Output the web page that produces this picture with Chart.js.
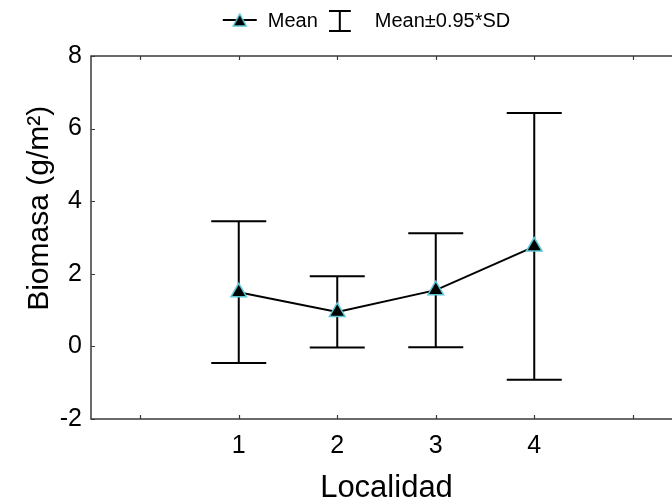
<!DOCTYPE html>
<html>
<head>
<meta charset="utf-8">
<script src="https://cdn.jsdelivr.net/npm/chart.js@4.4.1/dist/chart.umd.min.js"></script>
<style>
  html, body { margin: 0; padding: 0; background: #fff; overflow: hidden; }
  #wrap { width: 732px; height: 504px; }
</style>
</head>
<body>
<div id="wrap"><canvas id="c" width="732" height="504"></canvas></div>
<script>
// ---- data ----
const categories = [1, 2, 3, 4];
const means = [1.49, 0.95, 1.55, 2.75];
const lowerSD = [-0.46, -0.03, -0.02, -0.92];
const upperSD = [3.45, 1.93, 3.12, 6.43];
const xTicks = [0, 1, 2, 3, 4, 5];
const yTicks = [-2, 0, 2, 4, 6, 8];
const seriesNames = ['Mean', 'Mean\u00b10.95*SD'];
const xTitle = 'Localidad';
const yTitle = 'Biomasa (g/m\u00b2)';

const FONT = "'Liberation Sans', Arial, sans-serif";
const CYAN = '#5cc6d6';
const AXIS = '#3a3a3a';

// legend icons
function iconMean() {
  const c = document.createElement('canvas');
  c.width = 36; c.height = 24;
  const g = c.getContext('2d');
  g.strokeStyle = '#000'; g.lineWidth = 2;
  g.beginPath(); g.moveTo(1, 11); g.lineTo(35, 11); g.stroke();
  g.fillStyle = '#000'; g.strokeStyle = CYAN; g.lineWidth = 1.5;
  g.beginPath(); g.moveTo(18, 5); g.lineTo(24.5, 17); g.lineTo(11.5, 17); g.closePath();
  g.fill(); g.stroke();
  return c;
}
function iconSD() {
  const c = document.createElement('canvas');
  c.width = 36; c.height = 24;
  const g = c.getContext('2d');
  g.strokeStyle = '#000'; g.lineWidth = 2;
  g.beginPath();
  g.moveTo(0, 2); g.lineTo(22, 2);
  g.moveTo(11, 2); g.lineTo(11, 22);
  g.moveTo(0, 22); g.lineTo(22, 22);
  g.stroke();
  return c;
}

const errorBars = {
  id: 'errorBars',
  beforeDatasetsDraw(chart) {
    const {ctx, scales: {x, y}} = chart;
    ctx.save();
    ctx.strokeStyle = '#000';
    ctx.lineWidth = 2;
    categories.forEach((c, i) => {
      const px = x.getPixelForValue(c);
      const pLo = y.getPixelForValue(lowerSD[i]);
      const pHi = y.getPixelForValue(upperSD[i]);
      const hw = 27.5;
      ctx.beginPath();
      ctx.moveTo(px, pLo); ctx.lineTo(px, pHi);
      ctx.moveTo(px - hw, pHi); ctx.lineTo(px + hw, pHi);
      ctx.moveTo(px - hw, pLo); ctx.lineTo(px + hw, pLo);
      ctx.stroke();
    });
    ctx.restore();
  }
};

const frame = {
  id: 'frame',
  afterDraw(chart) {
    const {ctx, chartArea: a, scales: {x, y}} = chart;
    ctx.save();
    ctx.strokeStyle = AXIS;
    ctx.lineWidth = 1.5;
    ctx.beginPath();
    ctx.moveTo(a.right, a.top); ctx.lineTo(a.left, a.top);
    ctx.lineTo(a.left, a.bottom); ctx.lineTo(a.right, a.bottom);
    ctx.lineTo(a.right, a.top);
    ctx.stroke();
    ctx.lineWidth = 1.2;
    ctx.beginPath();
    x.ticks.forEach(t => {
      const px = Math.round(x.getPixelForValue(t.value)) + 0.5;
      ctx.moveTo(px, a.bottom); ctx.lineTo(px, a.bottom - 4);
      ctx.moveTo(px, a.top); ctx.lineTo(px, a.top + 4);
    });
    y.ticks.forEach(t => {
      const py = Math.round(y.getPixelForValue(t.value)) + 0.5;
      ctx.moveTo(a.left, py); ctx.lineTo(a.left + 4, py);
      ctx.moveTo(a.right, py); ctx.lineTo(a.right - 4, py);
    });
    ctx.stroke();
    ctx.restore();
  }
};

new Chart(document.getElementById('c'), {
  type: 'line',
  data: {
    datasets: [{
      label: seriesNames[0],
      data: categories.map((c, i) => ({x: c, y: means[i]})),
      borderColor: '#000',
      borderWidth: 2,
      pointStyle: 'triangle',
      pointRadius: 9,
      pointBackgroundColor: '#000',
      pointBorderColor: CYAN,
      pointBorderWidth: 1.5,
      tension: 0,
      fill: false
    }]
  },
  options: {
    responsive: false,
    animation: false,
    devicePixelRatio: 1,
    layout: { padding: 0 },
    plugins: {
      tooltip: { enabled: false },
      legend: {
        display: true,
        position: 'top',
        labels: {
          usePointStyle: true,
          pointStyleWidth: 36,
          padding: 11,
          color: '#000',
          font: { family: FONT, size: 20 },
          generateLabels: () => [
            { text: seriesNames[0], pointStyle: iconMean(), fontColor: '#000', lineWidth: 0, hidden: false, datasetIndex: 0 },
            { text: seriesNames[1], pointStyle: iconSD(), fontColor: '#000', lineWidth: 0, hidden: false }
          ]
        }
      }
    },
    scales: {
      x: {
        type: 'linear',
        position: 'bottom',
        min: -0.5,
        max: 5.5,
        afterFit: s => { s.height = 85; },
        afterBuildTicks: s => { s.ticks = xTicks.map(v => ({value: v})); },
        ticks: {
          color: '#000',
          padding: 12,
          font: { family: FONT, size: 25 },
          maxRotation: 0,
          autoSkip: false,
          callback: v => categories.includes(v) ? String(v) : ''
        },
        grid: { display: false, drawTicks: false },
        border: { display: false },
        title: {
          display: true,
          text: xTitle,
          color: '#000',
          font: { family: FONT, size: 31, lineHeight: 1 },
          padding: { top: 0, bottom: 0 }
        }
      },
      x2: {
        type: 'linear',
        position: 'top',
        min: -0.5,
        max: 5.5,
        afterFit: s => { s.height = 15; },
        ticks: { display: false },
        grid: { display: false, drawTicks: false },
        border: { display: false }
      },
      y: {
        type: 'linear',
        min: -2,
        max: 8,
        afterFit: s => { s.width = 91; },
        afterBuildTicks: s => { s.ticks = yTicks.map(v => ({value: v})); },
        ticks: {
          color: '#000',
          padding: 9,
          font: { family: FONT, size: 25 }
        },
        grid: { display: false, drawTicks: false },
        border: { display: false },
        title: {
          display: true,
          text: '       ' + yTitle,
          color: '#000',
          font: { family: FONT, size: 30, lineHeight: 1 },
          padding: { top: 25, bottom: 0 }
        }
      },
      y2: {
        type: 'linear',
        position: 'right',
        min: -2,
        max: 8,
        afterFit: s => { s.width = 50; },
        ticks: { display: false },
        grid: { display: false, drawTicks: false },
        border: { display: false }
      }
    }
  },
  plugins: [errorBars, frame]
});
</script>
</body>
</html>
